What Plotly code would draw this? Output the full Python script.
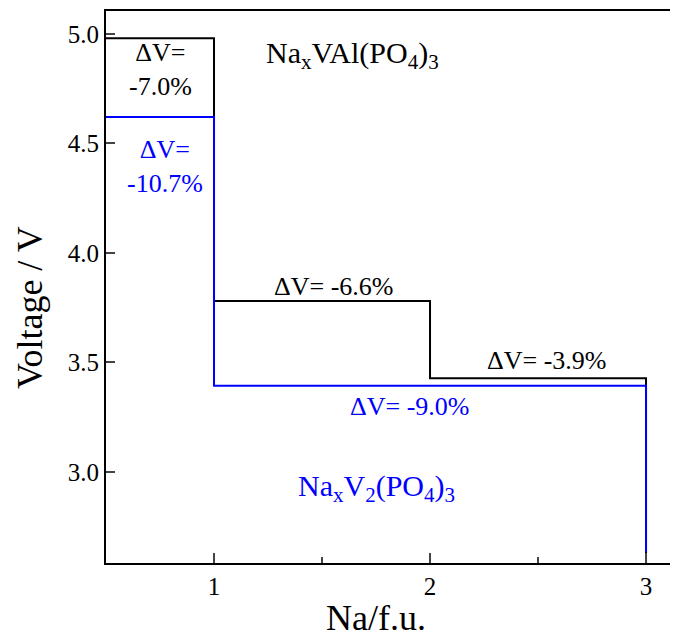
import plotly.graph_objects as go

# Voltage step profiles (Na/f.u. vs V)
nvap_x = [0.5, 1, 1, 2, 2, 3, 3]
nvap_y = [4.98, 4.98, 3.781, 3.781, 3.428, 3.428, 2.5]
nvp_x = [0.5, 1, 1, 3, 3]
nvp_y = [4.621, 4.621, 3.394, 3.394, 2.635]

# Volume-change labels
dv_black_text = ["ΔV=<br>-7.0%", "ΔV= -6.6%", "ΔV= -3.9%"]
dv_black_x = [0.75, 1.551, 2.537]
dv_black_y = [4.836, 3.845, 3.511]
dv_blue_text = ["ΔV=<br>-10.7%", "ΔV= -9.0%"]
dv_blue_x = [0.773, 1.907]
dv_blue_y = [4.397, 3.297]

font_family = "Liberation Serif, Times New Roman, serif"

fig = go.Figure()
fig.add_trace(go.Scatter(x=nvap_x, y=nvap_y, mode="lines",
                         line=dict(color="black", width=2), showlegend=False))
fig.add_trace(go.Scatter(x=nvp_x, y=nvp_y, mode="lines",
                         line=dict(color="#0000FF", width=2), showlegend=False))

for t, x, y in zip(dv_black_text, dv_black_x, dv_black_y):
    fig.add_annotation(x=x, y=y, text=t, showarrow=False,
                       font=dict(family=font_family, size=26, color="black"))
for t, x, y in zip(dv_blue_text, dv_blue_x, dv_blue_y):
    fig.add_annotation(x=x, y=y, text=t, showarrow=False,
                       font=dict(family=font_family, size=26, color="#0000FF"))

fig.add_annotation(x=1.639, y=4.904, text="Na<sub>x</sub>VAl(PO<sub>4</sub>)<sub>3</sub>",
                   showarrow=False, font=dict(family=font_family, size=30, color="black"))
fig.add_annotation(x=1.75, y=2.927, text="Na<sub>x</sub>V<sub>2</sub>(PO<sub>4</sub>)<sub>3</sub>",
                   showarrow=False, font=dict(family=font_family, size=30, color="#0000FF"))

# Axis titles
fig.add_annotation(xref="paper", yref="paper", x=0.4712, y=-0.0996, text="Na/f.u.",
                   showarrow=False, xanchor="center", yanchor="middle",
                   font=dict(family=font_family, size=36, color="black"))
fig.add_annotation(xref="paper", yref="paper", x=-0.1329, y=0.4638, text="Voltage / V",
                   showarrow=False, xanchor="center", yanchor="middle", textangle=-90,
                   font=dict(family=font_family, size=36, color="black"))

fig.update_layout(
    width=670, height=629,
    margin=dict(l=98, r=0, t=3, b=74),
    plot_bgcolor="white", paper_bgcolor="white",
    font=dict(family=font_family, color="black"),
    xaxis=dict(range=[0.5, 3.148], tickvals=[1, 2, 3], ticks="inside", ticklen=10,
               tickwidth=2, showline=True, linewidth=2, linecolor="black", mirror=True,
               showgrid=False, zeroline=False, tickfont=dict(size=25),
               minor=dict(tickvals=[1.5, 2.5], ticks="inside", ticklen=6, tickwidth=2,
                          showgrid=False)),
    yaxis=dict(range=[2.584, 5.105], tickvals=[3.0, 3.5, 4.0, 4.5, 5.0],
               ticktext=["3.0", "3.5", "4.0", "4.5", "5.0"],
               ticks="inside", ticklen=9, tickwidth=2,
               showline=True, linewidth=2, linecolor="black", showgrid=False,
               zeroline=False, tickfont=dict(size=25)),
)

fig.write_html("out.html")
